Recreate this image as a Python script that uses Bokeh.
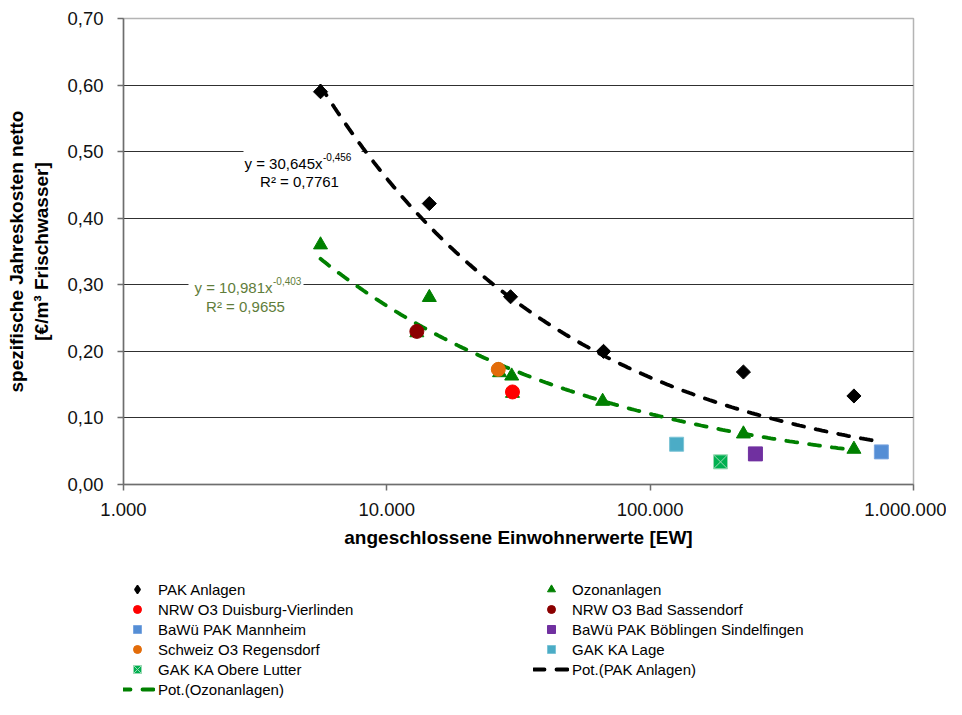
import numpy as np
from bokeh.plotting import figure
from bokeh.layouts import column
from bokeh.models import Range1d, FixedTicker, Label, Legend, LegendItem, BoxAnnotation
from bokeh.embed import file_html
from bokeh.resources import INLINE

# ---------------- data ----------------
pak_x = [5600, 14500, 29500, 66500, 226000, 594000]
pak_y = [0.590, 0.422, 0.282, 0.200, 0.169, 0.133]

ozon_x = [5600, 13000, 14500, 26800, 29800, 30000, 66000, 226000, 594000]
ozon_y = [0.360, 0.228, 0.281, 0.168, 0.163, 0.137, 0.125, 0.076, 0.053]

duis_x = [30000]
duis_y = [0.139]
sass_x = [13000]
sass_y = [0.230]
mann_x = [755000]
mann_y = [0.049]
boeb_x = [251000]
boeb_y = [0.046]
reg_x = [26500]
reg_y = [0.173]
lage_x = [126000]
lage_y = [0.0605]
lutter_x = [185000]
lutter_y = [0.034]

# power trend lines (y = a * x^b) as shown in the chart
pak_a, pak_b = 30.645, -0.456
oz_a, oz_b = 10.981, -0.403
pak_trend_range = [5600, 755000]
oz_trend_range = [5600, 594000]

y_ticks = [0.0, 0.1, 0.2, 0.3, 0.4, 0.5, 0.6, 0.7]
y_tick_labels = ["0,00", "0,10", "0,20", "0,30", "0,40", "0,50", "0,60", "0,70"]
x_ticks = [1000, 10000, 100000, 1000000]
x_tick_labels = ["1.000", "10.000", "100.000", "1.000.000"]

FONT = "Liberation Sans"

# ---------------- main figure ----------------
H1 = 562
p = figure(width=946, height=H1, x_axis_type="log",
           x_range=Range1d(1000, 1000000), y_range=Range1d(0, 0.7),
           output_backend="svg", toolbar_location=None, title=None,
           min_border_left=123, min_border_right=33,
           min_border_top=18, min_border_bottom=H1 - 484)
p.background_fill_color = "white"
p.border_fill_color = "white"
p.outline_line_color = "#b4b4b4"
p.outline_line_width = 1.5

p.xgrid.visible = False
p.ygrid.ticker = FixedTicker(ticks=y_ticks)
p.ygrid.grid_line_color = "#303030"
p.ygrid.grid_line_width = 1.2

for ax in (p.xaxis[0], p.yaxis[0]):
    ax.axis_line_color = "#6e6e6e"
    ax.axis_line_width = 1.5
    ax.major_tick_line_color = "#6e6e6e"
    ax.major_tick_line_width = 1.5
    ax.major_tick_out = 6
    ax.major_tick_in = 0
    ax.minor_tick_line_color = None
    ax.major_label_text_font = FONT
    ax.major_label_text_font_size = "18.5px"
    ax.major_label_text_color = "#111111"
    ax.axis_label_text_font = FONT
    ax.axis_label_text_font_size = "19px"
    ax.axis_label_text_font_style = "bold"
    ax.axis_label_text_color = "black"

p.yaxis.ticker = FixedTicker(ticks=y_ticks)
p.yaxis.major_label_overrides = {t: l for t, l in zip(y_ticks, y_tick_labels)}
p.yaxis.major_label_standoff = 14
p.yaxis.axis_label = "spezifische Jahreskosten netto\n[€/m³ Frischwasser]"
p.yaxis.axis_label_standoff = 12

p.xaxis.ticker = FixedTicker(ticks=x_ticks)
p.xaxis.major_label_overrides = {t: l for t, l in zip(x_ticks, x_tick_labels)}
p.xaxis.major_label_standoff = 12
p.xaxis.axis_label = "angeschlossene Einwohnerwerte [EW]"
p.xaxis.axis_label_standoff = 8

# helpers to convert reference pixel positions to data coords (annotations only)
X0, DEC, Y0, YS = 123.0, 263.33, 484.0, 665.7
def xd(px):
    return 10 ** (3 + (px - X0) / DEC)
def yd(py):
    return (Y0 - py) / YS

# ---------------- trend lines ----------------
tx1 = np.geomspace(pak_trend_range[0], pak_trend_range[1], 200)
ty1 = pak_a * tx1 ** pak_b
tx2 = np.geomspace(oz_trend_range[0], oz_trend_range[1], 200)
ty2 = oz_a * tx2 ** oz_b

LINE_PAK = dict(line_color="black", line_width=3.8, line_dash="11 12", line_cap="round")
LINE_OZ = dict(line_color="#008000", line_width=3.8, line_dash="11 12", line_cap="round")
p.line(tx1, ty1, **LINE_PAK)
p.line(tx2, ty2, **LINE_OZ)

# ---------------- markers ----------------
ST = {
    "pak": dict(marker="square", angle=np.pi / 4, size=10, fill_color="black", line_color="black"),
    "oz": dict(marker="triangle", size=14, fill_color="#008000", line_color="#008000"),
    "duis": dict(marker="circle", size=14, fill_color="#ff0000", line_color="#ff0000"),
    "sass": dict(marker="circle", size=14, fill_color="#8b0000", line_color="#8b0000"),
    "mann": dict(marker="square", size=14, fill_color="#558ed5", line_color="#7aa6e0"),
    "boeb": dict(marker="square", size=14, fill_color="#7030a0", line_color="#7030a0"),
    "reg": dict(marker="circle", size=14, fill_color="#e36c09", line_color="#e36c09"),
    "lage": dict(marker="square", size=14, fill_color="#4bacc6", line_color="#7cc4d6"),
    "lut": dict(marker="square_x", size=14, fill_color="#00b050", line_color="#9ad9b4", line_width=1),
}
SERIES = {
    "pak": (pak_x, pak_y), "oz": (ozon_x, ozon_y), "duis": (duis_x, duis_y),
    "sass": (sass_x, sass_y), "mann": (mann_x, mann_y), "boeb": (boeb_x, boeb_y),
    "reg": (reg_x, reg_y), "lage": (lage_x, lage_y), "lut": (lutter_x, lutter_y),
}
for k, (sx, sy) in SERIES.items():
    p.scatter(sx, sy, **ST[k])

# ---------------- equation labels ----------------
p.add_layout(BoxAnnotation(left=xd(243), right=xd(361), top=yd(146), bottom=yd(187),
                           fill_color="white", fill_alpha=1, line_color=None, level="underlay"))
p.add_layout(BoxAnnotation(left=xd(188), right=xd(303), top=yd(273), bottom=yd(311),
                           fill_color="white", fill_alpha=1, line_color=None, level="underlay"))

def eq_label(x, y, text, color, size, align):
    p.add_layout(Label(x=x, y=y, text=text, text_color=color, text_font=FONT,
                       text_font_size=size, text_align=align, text_baseline="alphabetic"))

eq_label(xd(322), yd(163), "y = 30,645x", "black", "15px", "right")
eq_label(xd(322.5), yd(157), "-0,456", "black", "10px", "left")
eq_label(xd(299), yd(181.5), "R² = 0,7761", "black", "15px", "center")

OLIVE = "#5f7d3b"
eq_label(xd(272), yd(287), "y = 10,981x", OLIVE, "15px", "right")
eq_label(xd(272.5), yd(281), "-0,403", OLIVE, "10px", "left")
eq_label(xd(245), yd(306.5), "R² = 0,9655", OLIVE, "15px", "center")

# ---------------- legend figure (below the chart) ----------------
# The same series are drawn here but fall outside this figure's ranges, so only
# the legend entries are visible.
H2 = 699 - H1
q = figure(width=946, height=H2, x_range=Range1d(0, 1), y_range=Range1d(0, 1),
           x_axis_location=None, y_axis_location=None,
           output_backend="svg", toolbar_location=None, title=None,
           min_border_left=123, min_border_right=33, min_border_top=0, min_border_bottom=0)
q.grid.visible = False
q.outline_line_color = None
q.background_fill_color = "white"
q.border_fill_color = "white"

LEG_ST = dict(ST)
# legend swatches are drawn unrotated, so use the diamond marker there
LEG_ST["pak"] = dict(marker="diamond", size=10, fill_color="black", line_color="black", line_width=1.5)

lr = {k: q.scatter(sx, sy, **LEG_ST[k]) for k, (sx, sy) in SERIES.items()}
lr["tpak"] = q.line(tx1, ty1, **LINE_PAK)
lr["toz"] = q.line(tx2, ty2, **LINE_OZ)

left_items = [("PAK Anlagen", "pak"),
              ("NRW O3 Duisburg-Vierlinden", "duis"),
              ("BaWü PAK Mannheim", "mann"),
              ("Schweiz O3 Regensdorf", "reg"),
              ("GAK KA Obere Lutter", "lut"),
              ("Pot.(Ozonanlagen)", "toz")]
right_items = [("Ozonanlagen", "oz"),
               ("NRW O3 Bad Sassendorf", "sass"),
               ("BaWü PAK Böblingen Sindelfingen", "boeb"),
               ("GAK KA Lage", "lage"),
               ("Pot.(PAK Anlagen)", "tpak")]

FRAME_LEFT = 123
LEG_TOP = 579 - H1  # top of the legend block inside the legend figure
ROW_H, SPACING = 20, 0

def make_legend(items, x_left):
    n = len(items)
    h = n * ROW_H + (n - 1) * SPACING
    lg = Legend(items=[LegendItem(label=l, renderers=[lr[k]]) for l, k in items],
                location=(x_left - FRAME_LEFT, H2 - LEG_TOP - h), orientation="vertical",
                glyph_width=36, glyph_height=ROW_H, label_height=ROW_H, spacing=SPACING,
                padding=0, margin=0, label_standoff=3,
                label_text_font=FONT, label_text_font_size="15px", label_text_color="black",
                border_line_color=None, background_fill_alpha=0)
    q.add_layout(lg, "center")

make_legend(left_items, 119)
make_legend(right_items, 533)

open("out.html", "w").write(file_html(column(p, q, spacing=0), INLINE))
